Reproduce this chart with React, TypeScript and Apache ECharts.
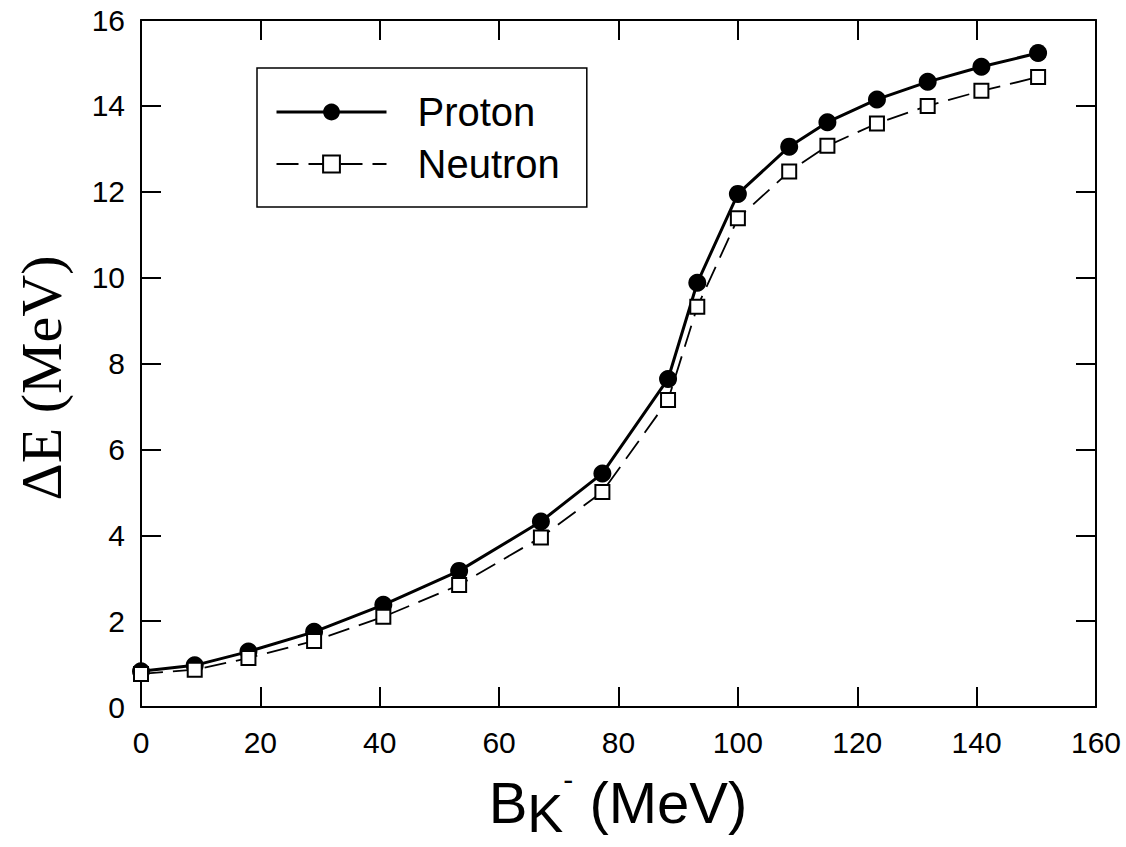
import React, { useEffect, useRef } from "react";
import * as echarts from "echarts";

const bindingEnergy = [0, 9, 18, 29, 40.6, 53.3, 67, 77.3, 88.3, 93.2, 100, 108.6, 115, 123.3, 131.8, 140.8, 150.3];
const protonDE = [0.83, 0.97, 1.29, 1.75, 2.38, 3.17, 4.32, 5.44, 7.64, 9.88, 11.95, 13.05, 13.62, 14.15, 14.56, 14.91, 15.23];
const neutronDE = [0.77, 0.87, 1.14, 1.54, 2.1, 2.84, 3.95, 5.01, 7.15, 9.32, 11.38, 12.47, 13.07, 13.59, 14.0, 14.35, 14.67];
const seriesNames = ["Proton", "Neutron"];
const xTitle = { main: "B", sub: "K", sup: "-", rest: " (MeV)" };
const yTitle = "ΔE (MeV)";

const SANS = "'Liberation Sans', Arial, sans-serif";
const SERIF = "'Liberation Serif', 'Times New Roman', serif";

export default function App() {
  const ref = useRef<HTMLDivElement>(null);
  useEffect(() => {
    document.body.style.margin = "0";
    const chart = echarts.init(ref.current!, null, { renderer: "svg" });
    const axisCommon = {
      axisLine: { show: true, onZero: false, lineStyle: { color: "#000", width: 2 } },
      axisTick: { show: true, inside: true, length: 20, lineStyle: { color: "#000", width: 2 } },
      splitLine: { show: false },
    };
    chart.setOption({
      animation: false,
      backgroundColor: "#fff",
      grid: { left: 141, right: 30, top: 20, bottom: 140 },
      xAxis: [
        {
          type: "value", min: 0, max: 160, interval: 20, position: "bottom",
          ...axisCommon,
          axisLabel: { color: "#000", fontSize: 30, fontFamily: SANS, margin: 20 },
        },
        {
          type: "value", min: 0, max: 160, interval: 20, position: "top",
          ...axisCommon,
          axisLabel: { show: false },
        },
      ],
      yAxis: [
        {
          type: "value", min: 0, max: 16, interval: 2, position: "left",
          ...axisCommon,
          axisLabel: { color: "#000", fontSize: 30, fontFamily: SANS, margin: 16 },
        },
        {
          type: "value", min: 0, max: 16, interval: 2, position: "right",
          ...axisCommon,
          axisLabel: { show: false },
        },
      ],
      legend: {
        orient: "vertical",
        left: 257,
        top: 68,
        padding: [24, 27, 23, 18],
        itemGap: 12,
        itemWidth: 110,
        itemHeight: 21,
        borderColor: "#000",
        borderWidth: 1.5,
        textStyle: { color: "#000", fontSize: 40, fontFamily: SANS, padding: [0, 0, 0, 26] },
        data: [
          { name: seriesNames[0], lineStyle: { width: 3 } },
          { name: seriesNames[1], lineStyle: { width: 1.8 } },
        ],
      },
      series: [
        {
          name: seriesNames[0],
          type: "line",
          data: bindingEnergy.map((x, i) => [x, protonDE[i]]),
          symbol: "circle",
          symbolSize: 18,
          itemStyle: { color: "#000" },
          lineStyle: { color: "#000", width: 3 },
          z: 3,
        },
        {
          name: seriesNames[1],
          type: "line",
          data: bindingEnergy.map((x, i) => [x, neutronDE[i]]),
          symbol: "rect",
          symbolSize: 14,
          itemStyle: { color: "#fff", borderColor: "#000", borderWidth: 2 },
          lineStyle: { color: "#000", width: 1.8, type: [22, 10] },
          z: 4,
        },
      ],
      graphic: [
        {
          type: "text",
          x: 41,
          y: 378,
          rotation: Math.PI / 2,
          style: {
            text: yTitle,
            fontSize: 58,
            fontFamily: SERIF,
            fill: "#000",
            align: "center",
            verticalAlign: "middle",
          },
        },
        {
          type: "text",
          x: 618,
          y: 802,
          style: {
            text: `{b|${xTitle.main}}{k|${xTitle.sub}}{s|${xTitle.sup}}{b|${xTitle.rest}}`,
            align: "center",
            verticalAlign: "middle",
            fill: "#000",
            rich: {
              b: { fontSize: 58, fontFamily: SANS, lineHeight: 76, verticalAlign: "middle", fill: "#000" },
              k: { fontSize: 54, fontFamily: SANS, lineHeight: 54, verticalAlign: "bottom", fill: "#000" },
              s: { fontSize: 30, fontFamily: SANS, lineHeight: 30, verticalAlign: "top", fill: "#000" },
            },
          },
        },
      ],
    });
    return () => chart.dispose();
  }, []);
  return <div ref={ref} style={{ width: 1126, height: 847 }} />;
}
